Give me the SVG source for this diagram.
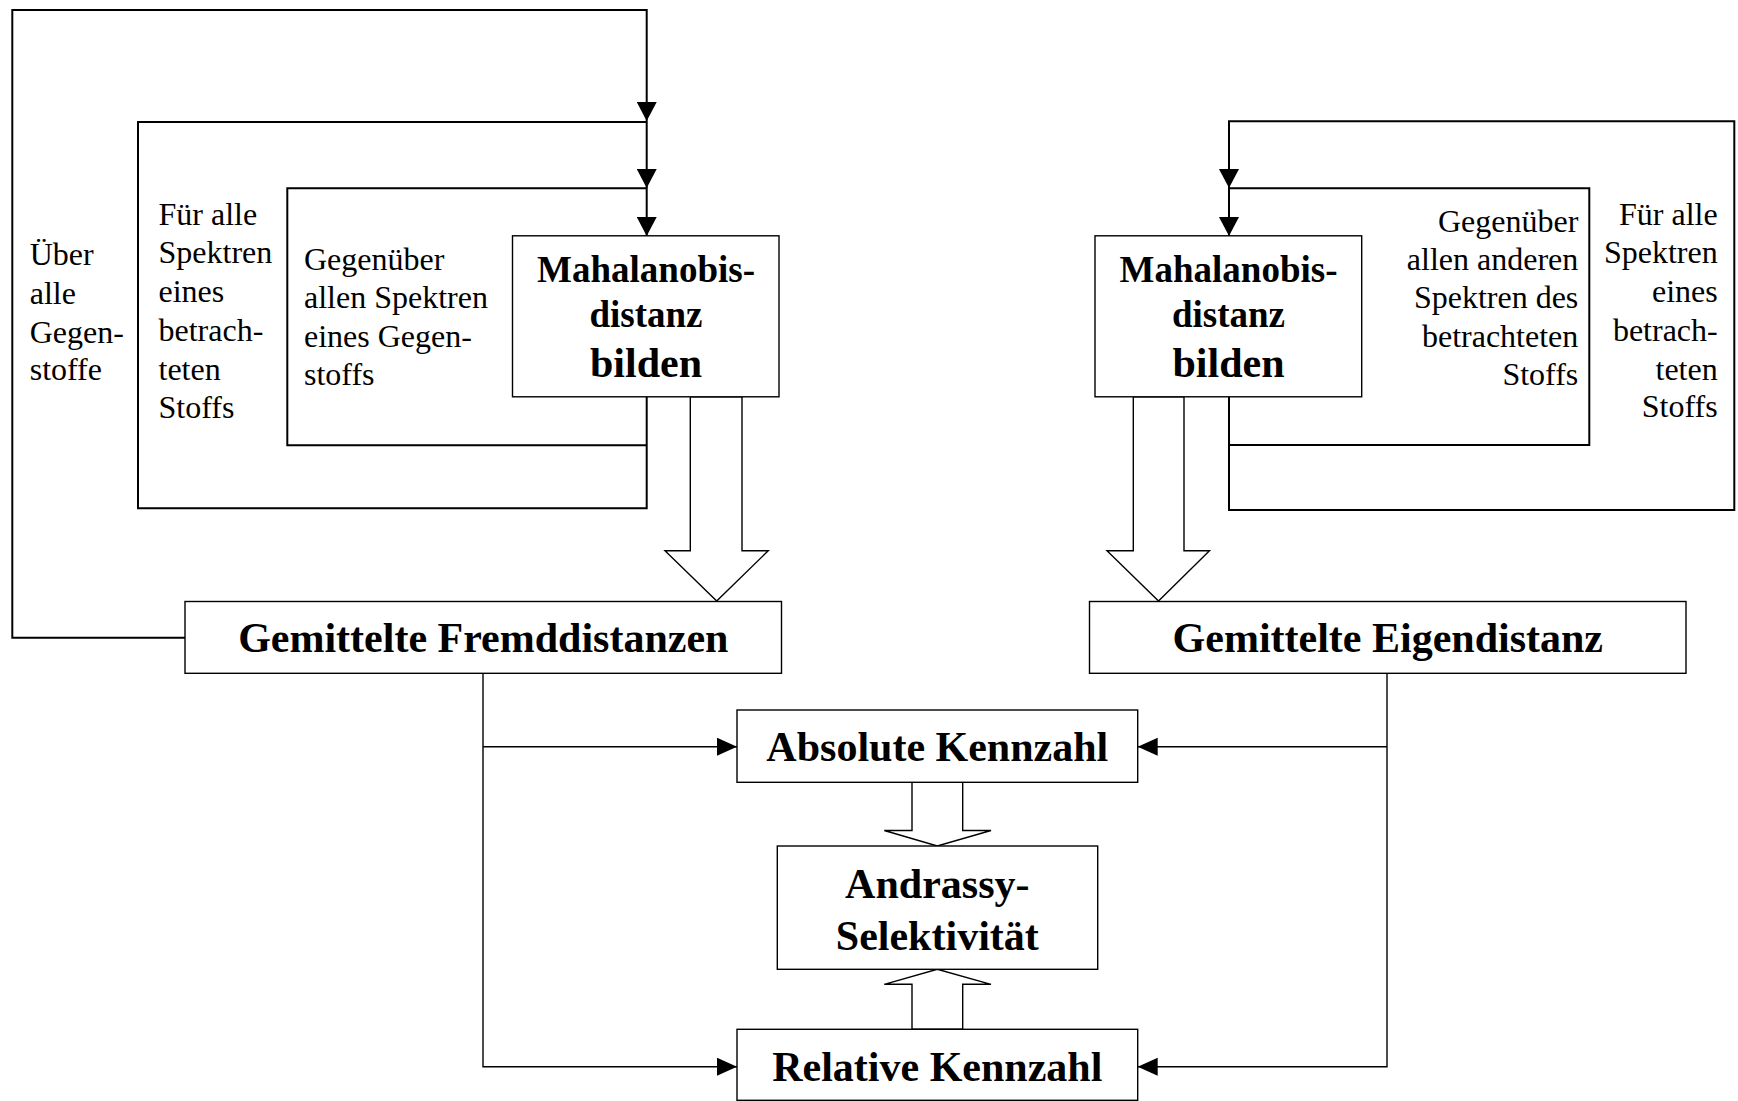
<svg xmlns="http://www.w3.org/2000/svg" width="1738" height="1101" viewBox="0 0 1738 1101">
  <style>
    .box { fill: #fff; stroke: #000; stroke-width: 1.4; }
    .loop { fill: none; stroke: #000; stroke-width: 2; }
    .link { fill: none; stroke: #000; stroke-width: 1.4; }
    .hollow { fill: #fff; stroke: #000; stroke-width: 1.4; stroke-linejoin: miter; }
    .lbl { font-family: "Liberation Serif", "Times New Roman", serif; font-size: 32px; fill: #000; }
    .end { text-anchor: end; }
    .bold { font-family: "Liberation Serif", "Times New Roman", serif; font-weight: bold; fill: #000; text-anchor: middle; }
  </style>
  <defs>
    <marker id="loopHead" markerUnits="userSpaceOnUse" markerWidth="22" markerHeight="20" refX="19" refY="10" orient="auto">
      <path d="M0,0 L19,10 L0,20 Z" fill="#000"/>
    </marker>
    <marker id="smallHead" markerUnits="userSpaceOnUse" markerWidth="22" markerHeight="20" refX="20" refY="9" orient="auto">
      <path d="M0,0 L20,9 L0,18 Z" fill="#000"/>
    </marker>
  </defs>
  <rect width="1738" height="1101" fill="#fff"/>

  <g id="connectors">
    <!-- left iteration loops -->
    <path class="loop" d="M185,637.7 H12.3 V10 H646.7 V121" marker-end="url(#loopHead)"/>
    <path class="loop" d="M646.7,396.7 V508.3 H138 V122 H646.7 V188" marker-end="url(#loopHead)"/>
    <path class="loop" d="M646.7,445.3 H287.3 V188.3 H646.7 V236" marker-end="url(#loopHead)"/>
    <!-- right iteration loops -->
    <path class="loop" d="M1229,396.7 V510 H1734.3 V121.3 H1229 V188" marker-end="url(#loopHead)"/>
    <path class="loop" d="M1229,445 H1589.3 V188.3 H1229 V236" marker-end="url(#loopHead)"/>
    <!-- averaged distances to the key figures -->
    <path class="link" d="M483,673.3 V1066.7 H737" marker-end="url(#smallHead)"/>
    <path class="link" d="M483,746.7 H737" marker-end="url(#smallHead)"/>
    <path class="link" d="M1387,673.3 V1066.7 H1137.7" marker-end="url(#smallHead)"/>
    <path class="link" d="M1387,746.7 H1137.7" marker-end="url(#smallHead)"/>
    <!-- block arrows -->
    <polygon class="hollow" points="690.3,396.7 690.3,550.7 665,550.7 716.7,601 768.3,550.7 742,550.7 742,396.7"/>
    <polygon class="hollow" points="1133.3,396.7 1133.3,550.7 1107,550.7 1158.5,601 1209.5,550.7 1184,550.7 1184,396.7"/>
    <polygon class="hollow" points="912,782.3 912,830.5 884.3,830.5 937.3,846 991,830.5 962.7,830.5 962.7,782.3"/>
    <polygon class="hollow" points="912,1029.3 912,984.3 884.3,984.3 937.3,969.3 991,984.3 962.7,984.3 962.7,1029.3"/>
  </g>

  <g id="loop-labels">
    <!-- outer left loop -->
    <text class="lbl" x="29.7" y="265">Über</text>
    <text class="lbl" x="29.7" y="304">alle</text>
    <text class="lbl" x="29.7" y="343">Gegen-</text>
    <text class="lbl" x="29.7" y="380">stoffe</text>
    <!-- middle left loop -->
    <text class="lbl" x="158.5" y="225">Für alle</text>
    <text class="lbl" x="158.5" y="263">Spektren</text>
    <text class="lbl" x="158.5" y="302">eines</text>
    <text class="lbl" x="158.5" y="341">betrach-</text>
    <text class="lbl" x="158.5" y="380">teten</text>
    <text class="lbl" x="158.5" y="418">Stoffs</text>
    <!-- inner left loop -->
    <text class="lbl" x="304" y="269.5">Gegenüber</text>
    <text class="lbl" x="304" y="308.3">allen Spektren</text>
    <text class="lbl" x="304" y="346.7">eines Gegen-</text>
    <text class="lbl" x="304" y="385">stoffs</text>
    <!-- inner right loop -->
    <text class="lbl end" x="1578.3" y="232">Gegenüber</text>
    <text class="lbl end" x="1578.3" y="270">allen anderen</text>
    <text class="lbl end" x="1578.3" y="308.3">Spektren des</text>
    <text class="lbl end" x="1578.3" y="346.7">betrachteten</text>
    <text class="lbl end" x="1578.3" y="385">Stoffs</text>
    <!-- outer right loop -->
    <text class="lbl end" x="1717.7" y="225">Für alle</text>
    <text class="lbl end" x="1717.7" y="263">Spektren</text>
    <text class="lbl end" x="1717.7" y="302">eines</text>
    <text class="lbl end" x="1717.7" y="341">betrach-</text>
    <text class="lbl end" x="1717.7" y="379.5">teten</text>
    <text class="lbl end" x="1717.7" y="417">Stoffs</text>
  </g>

  <g id="mahalanobis-left">
    <rect class="box" x="512.5" y="235.8" width="266.5" height="161"/>
    <text class="bold" x="646" y="281.5" font-size="37">Mahalanobis-</text>
    <text class="bold" x="646" y="327" font-size="37">distanz</text>
    <text class="bold" x="646" y="376.5" font-size="42">bilden</text>
  </g>

  <g id="mahalanobis-right">
    <rect class="box" x="1095" y="235.8" width="266.7" height="161"/>
    <text class="bold" x="1228.5" y="281.5" font-size="37">Mahalanobis-</text>
    <text class="bold" x="1228.5" y="327" font-size="37">distanz</text>
    <text class="bold" x="1228.5" y="376.5" font-size="42">bilden</text>
  </g>

  <g id="fremddistanzen">
    <rect class="box" x="185" y="601.5" width="596.5" height="71.8"/>
    <text class="bold" x="483.3" y="652" font-size="42">Gemittelte Fremddistanzen</text>
  </g>

  <g id="eigendistanz">
    <rect class="box" x="1089.5" y="601.5" width="596.5" height="71.8"/>
    <text class="bold" x="1387.8" y="652" font-size="42">Gemittelte Eigendistanz</text>
  </g>

  <g id="absolute-kennzahl">
    <rect class="box" x="737" y="710" width="400.7" height="72.3"/>
    <text class="bold" x="937.3" y="761" font-size="42">Absolute Kennzahl</text>
  </g>

  <g id="andrassy-selektivitaet">
    <rect class="box" x="777.3" y="846" width="320.4" height="123.3"/>
    <text class="bold" x="937.3" y="898" font-size="42">Andrassy-</text>
    <text class="bold" x="937.3" y="950" font-size="42">Selektivität</text>
  </g>

  <g id="relative-kennzahl">
    <rect class="box" x="737" y="1029.3" width="400.7" height="71"/>
    <text class="bold" x="937.3" y="1080.7" font-size="42">Relative Kennzahl</text>
  </g>
</svg>
